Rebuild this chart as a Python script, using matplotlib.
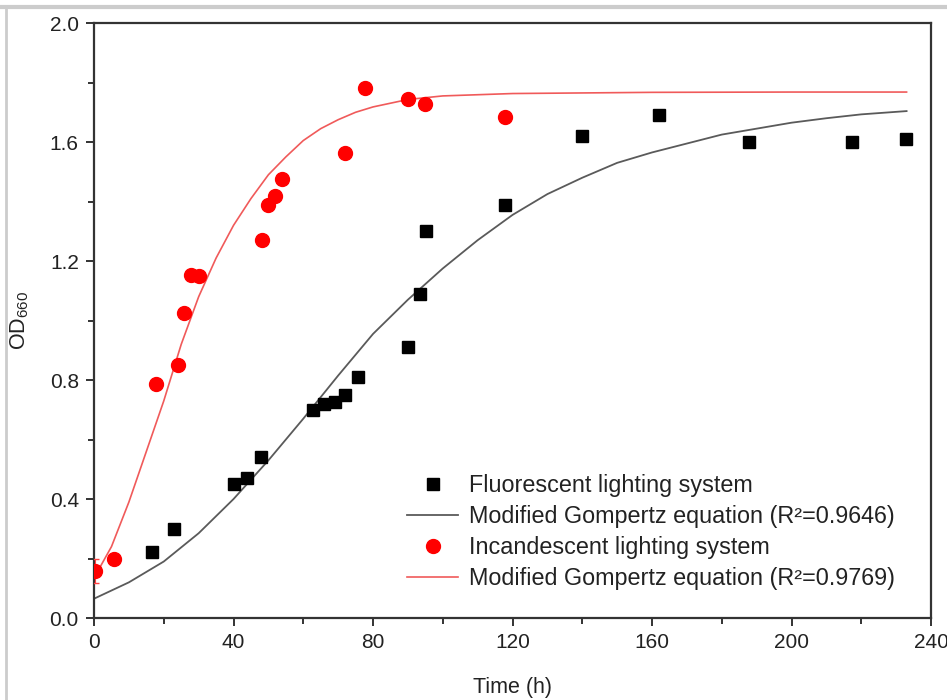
import matplotlib
matplotlib.use("Agg")
import matplotlib.pyplot as plt
from matplotlib.lines import Line2D
from matplotlib.ticker import MultipleLocator

plt.rcParams['font.family'] = ['Liberation Sans', 'DejaVu Sans']
plt.rcParams['mathtext.fontset'] = 'custom'
plt.rcParams['mathtext.rm'] = 'Liberation Sans'
plt.rcParams['mathtext.it'] = 'Liberation Sans:italic'

# measured points, fluorescent lighting (black squares)
fl_t = [16.6, 22.9, 40.1, 43.9, 47.9, 62.8, 65.9, 69.1, 72.0, 75.7, 90.0, 93.5, 95.2,
        117.8, 140.0, 162.0, 187.8, 217.3, 232.8]
fl_od = [0.222, 0.30, 0.45, 0.47, 0.54, 0.70, 0.72, 0.726, 0.75, 0.81, 0.91, 1.09, 1.30,
         1.39, 1.62, 1.69, 1.60, 1.60, 1.61]

# measured points, incandescent lighting (red circles)
in_t = [0.3, 5.7, 17.8, 24.1, 25.8, 27.8, 30.1, 48.2, 49.9, 51.9, 53.9, 72.0, 77.7,
        90.0, 94.9, 117.8]
in_od = [0.158, 0.198, 0.786, 0.85, 1.025, 1.153, 1.15, 1.27, 1.388, 1.418, 1.476,
         1.563, 1.78, 1.745, 1.728, 1.684]
in_err = [0.04, 0, 0, 0, 0, 0, 0, 0, 0, 0, 0, 0, 0, 0, 0, 0]

# fitted curves
fl_fit_t = [0, 10, 20, 30, 40, 50, 60, 70, 80, 90, 100, 110, 120, 130, 140, 150, 160,
            170, 180, 190, 200, 210, 220, 233]
fl_fit_od = [0.065, 0.12, 0.19, 0.285, 0.40, 0.53, 0.67, 0.815, 0.955, 1.07, 1.175,
             1.27, 1.355, 1.425, 1.48, 1.53, 1.565, 1.595, 1.625, 1.645, 1.665, 1.68,
             1.693, 1.704]

in_fit_t = [0, 5, 10, 15, 20, 25, 30, 35, 40, 45, 50, 55, 60, 65, 70, 75, 80, 90, 100,
            120, 160, 200, 233]
in_fit_od = [0.135, 0.24, 0.39, 0.56, 0.73, 0.92, 1.08, 1.21, 1.32, 1.41, 1.49, 1.55,
             1.605, 1.645, 1.675, 1.70, 1.718, 1.743, 1.755, 1.763, 1.767, 1.768, 1.768]

labels = ['Fluorescent lighting system',
          'Modified Gompertz equation (R²=0.9646)',
          'Incandescent lighting system',
          'Modified Gompertz equation (R²=0.9769)']

fig = plt.figure(figsize=(9.47, 7.0), dpi=100)
ax = fig.add_axes([0.0993, 0.1171, 0.8838, 0.85])

h1, = ax.plot(fl_t, fl_od, 's', color='black', markersize=8.5, zorder=3)
h2, = ax.plot(fl_fit_t, fl_fit_od, '-', color='#5a5a5a', lw=1.3, zorder=2)
ax.errorbar(in_t, in_od, yerr=in_err, fmt='none', ecolor='#ff4040',
            elinewidth=0.8, capsize=3, zorder=3)
h3, = ax.plot(in_t, in_od, 'o', color='#ff0000', markersize=10, zorder=4)
h4, = ax.plot(in_fit_t, in_fit_od, '-', color='#f05a5a', lw=1.2, zorder=2)

ax.set_xlim(0, 240)
ax.set_ylim(0, 2.0)
ax.xaxis.set_major_locator(MultipleLocator(40))
ax.xaxis.set_minor_locator(MultipleLocator(20))
ax.yaxis.set_major_locator(MultipleLocator(0.4))
ax.yaxis.set_minor_locator(MultipleLocator(0.2))
ax.xaxis.set_major_formatter(plt.FuncFormatter(lambda v, p: f'{v:.0f}'))
ax.yaxis.set_major_formatter(plt.FuncFormatter(lambda v, p: f'{v:.1f}'))

for s in ax.spines.values():
    s.set_color('#333333')
    s.set_linewidth(1.6)
ax.tick_params(which='both', direction='out', color='#333333', width=1.4,
               top=False, right=False, labelsize=15, labelcolor='#222222')
ax.tick_params(which='major', length=6, pad=5)
ax.tick_params(which='minor', length=4)

ax.set_xlabel('Time (h)', fontsize=15.5, color='#222222', labelpad=18)
ax.set_ylabel('OD$_{\\it{660}}$', fontsize=15.5, color='#222222', labelpad=13)

ax.legend([h1, h2, h3, h4], labels, loc='lower left', bbox_to_anchor=(0.36, 0.027),
          frameon=False, borderpad=0, fontsize=16.8, handlelength=2.2,
          handletextpad=0.45, labelspacing=0.34, labelcolor='#222222')

# light grey frame remnants at the top and left edges
fig.add_artist(Line2D([0, 1], [0.99, 0.99], transform=fig.transFigure, color='#cccccc', lw=3))
fig.add_artist(Line2D([0.006, 0.006], [0, 0.99], transform=fig.transFigure, color='#cccccc', lw=2))

fig.savefig('out.png', dpi=100)
